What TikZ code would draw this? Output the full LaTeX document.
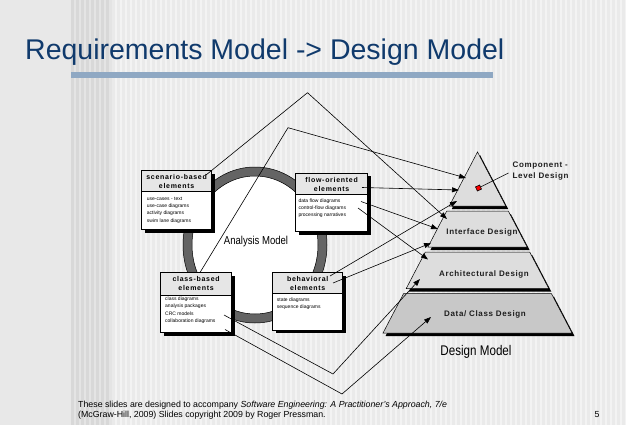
\documentclass[tikz,border=0pt]{standalone}
\usepackage{fontspec}
\setmainfont{Liberation Sans}
\newfontfamily\narrowfont[FakeStretch=0.83]{Liberation Sans}
\newfontfamily\headfont[LetterSpace=10]{Liberation Sans}
\newfontfamily\tierfont[LetterSpace=8]{Liberation Sans}
\usetikzlibrary{arrows.meta,shadows}

\definecolor{titleblue}{RGB}{16,58,108}
\definecolor{barblue}{RGB}{143,168,195}
\definecolor{bgleft}{RGB}{232,232,232}
\definecolor{bgpale}{RGB}{243,243,243}
\definecolor{stripelight}{RGB}{234,234,234}
\definecolor{bgdark}{RGB}{228,228,228}
\definecolor{stripedark}{RGB}{216,216,216}
\definecolor{ringgray}{RGB}{100,100,100}
\definecolor{hdrgray}{RGB}{230,230,230}
\definecolor{tiergray}{RGB}{221,221,221}
\definecolor{basegray}{RGB}{200,200,200}
\definecolor{labelink}{RGB}{30,30,30}

\begin{document}
\begin{tikzpicture}[x=1pt,y=-1pt,
  elbox/.style={draw=black, line width=0.6pt, fill=white, inner sep=0pt,
    drop shadow={shadow xshift=3pt, shadow yshift=-3pt, fill=black, opacity=1}},
  elhead/.style={draw=black, line width=0.6pt, fill=hdrgray, inner sep=0pt,
    align=center, font=\headfont\bfseries\fontsize{7}{9}\selectfont},
  eltext/.style={inner sep=0pt, align=left, font=\fontsize{5}{7.4}\selectfont},
  tierlbl/.style={inner sep=0pt, text=labelink, font=\tierfont\bfseries\fontsize{8}{11}\selectfont},
  foottext/.style={anchor=base west, inner sep=0pt, font=\fontsize{8.8}{9}\selectfont},
  conn/.style={draw=black, line width=0.6pt},
  arr/.style={conn, -{Triangle[length=7pt,width=5pt]}}]
\useasboundingbox (0,0) rectangle (626,425);

% slide background with vertical stripes
\fill[bgleft] (0,0) rectangle (626,425);
\fill[bgdark] (71,0) rectangle (112,425);
\fill[bgpale] (112,0) rectangle (626,425);
\foreach \i in {0,...,7} \fill[stripedark] ({71+5*\i},0) rectangle ++(2.5,425);
\foreach \i in {0,...,102} \fill[stripelight] ({112+5*\i},0) rectangle ++(2.5,425);

% title and rule
\node[anchor=base west, inner sep=0pt, text=titleblue, font=\fontsize{28.5}{29}\selectfont]
  (title) at (25,60) {Requirements Model -> Design Model};
\fill[barblue] (71,72) rectangle (493,78);

% analysis model ring
\fill[white] (255,245) ellipse [x radius=63, y radius=69];
\fill[ringgray, even odd rule] (255,245) ellipse [x radius=72, y radius=78]
  (255,245) ellipse [x radius=63, y radius=69];
\draw[line width=0.5pt] (255,245) ellipse [x radius=72, y radius=78]
  (255,245) ellipse [x radius=63, y radius=69];
\node[inner sep=0pt, font=\narrowfont\fontsize{11.5}{12}\selectfont] (anl) at (256,242) {Analysis Model};

% scenario-based elements
\node[elbox, minimum width=69.8, minimum height=58.8] (scen) at (176.6,200.1) {};
\node[elhead, minimum width=69.8, minimum height=21, anchor=north] (scenh) at (scen.north) {scenario-based\\elements};
\node[eltext, anchor=north west] (scenb) at (146.7,196.6) {use-cases - text\\use-case diagrams\\activity diagrams\\swim lane diagrams};

% flow-oriented elements
\node[elbox, minimum width=71.8, minimum height=58.4] (flow) at (331.6,202.5) {};
\node[elhead, minimum width=71.8, minimum height=21.4, anchor=north] (flowh) at (flow.north) {flow-oriented\\elements};
\node[eltext, anchor=north west] (flowb) at (298.3,198.3) {data flow diagrams\\control-flow diagrams\\processing narratives};

% class-based elements
\node[elbox, minimum width=70.8, minimum height=60] (cls) at (196.1,302.7) {};
\node[elhead, minimum width=70.8, minimum height=22.3, anchor=north] (clsh) at (cls.north) {class-based\\elements};
\node[eltext, anchor=north west] (clsb) at (165,296.6) {class diagrams\\analysis packages\\CRC models\\collaboration diagrams};

% behavioral elements
\node[elbox, minimum width=70, minimum height=57.3] (beh) at (307.7,301.35) {};
\node[elhead, minimum width=70, minimum height=20.6, anchor=north] (behh) at (beh.north) {behavioral\\elements};
\node[eltext, anchor=north west] (behb) at (276.7,297.6) {state diagrams\\sequence diagrams};

% design model pyramid: shadow, then tier
\foreach \ya/\yb/\col in {211/247/tiergray, 252/288.5/tiergray, 293.5/333/basegray}{
  \fill[black, shift={(2.5,3)}] ({477.5-0.522*(\ya-152)},\ya) -- ({477.5+0.522*(\ya-152)},\ya)
    -- ({477.5+0.522*(\yb-152)},\yb) -- ({477.5-0.522*(\yb-152)},\yb) -- cycle;
  \filldraw[fill=\col, draw=black, line width=0.5pt] ({477.5-0.522*(\ya-152)},\ya) -- ({477.5+0.522*(\ya-152)},\ya)
    -- ({477.5+0.522*(\yb-152)},\yb) -- ({477.5-0.522*(\yb-152)},\yb) -- cycle;
}
\fill[black, shift={(2.5,3)}] (477.5,152) -- ({477.5+0.522*54},206) -- ({477.5-0.522*54},206) -- cycle;
\filldraw[fill=tiergray, draw=black, line width=0.5pt] (477.5,152) -- ({477.5+0.522*54},206) -- ({477.5-0.522*54},206) -- cycle;

\node[tierlbl] (ifd) at (482,232) {Interface Design};
\node[tierlbl] (ard) at (484,274) {Architectural Design};
\node[tierlbl] (dcd) at (485,314) {Data/ Class Design};
\node[inner sep=0pt, font=\narrowfont\fontsize{14}{14}\selectfont] (dsm) at (476,352) {Design Model};

% component-level marker and its label
\node[draw=black, fill=red, line width=0.6pt, minimum size=4.5pt, inner sep=0pt, rotate=25] (redsq) at (478.5,188) {};
\node[tierlbl, anchor=north west, align=left] (cld) at (512.5,161.5) {Component -\\Level Design};
\coordinate (cldpt) at (508.5,173);
\draw[conn] (redsq) -- (cldpt);

% mapping from analysis elements to design tiers
\coordinate (s1) at (206,175);   \coordinate (b1) at (307.5,92.7); \coordinate (e1) at (447,219);
\coordinate (s2) at (200,272.5); \coordinate (b2) at (288,127.7);  \coordinate (e2) at (466,178);
\coordinate (s3) at (362,187.5); \coordinate (e3) at (459,190);
\coordinate (s4) at (361,201.5); \coordinate (e4) at (438,229);
\coordinate (s5) at (358,208);   \coordinate (e5) at (428,259.5);
\coordinate (s6) at (330,276);   \coordinate (e6) at (457,201);
\coordinate (s7) at (333,283);   \coordinate (e7) at (431,243);
\coordinate (s8) at (224,315);   \coordinate (b8) at (333,374);    \coordinate (e8) at (420,279);
\coordinate (s9) at (225,329.5); \coordinate (b9) at (342,394);    \coordinate (e9) at (431,317);

\draw[arr] (s1) -- (b1) -- (e1);
\draw[arr] (s2) -- (b2) -- (e2);
\draw[arr] (s3) -- (e3);
\draw[arr] (s4) -- (e4);
\draw[arr] (s5) -- (e5);
\draw[arr] (s6) -- (e6);
\draw[arr] (s7) -- (e7);
\draw[arr] (s8) -- (b8) -- (e8);
\draw[arr] (s9) -- (b9) -- (e9);

% footer
\node[foottext] (foot1) at (78,407)
  {These slides are designed to accompany \textit{Software Engineering: A Practitioner's Approach, 7/e}};
\node[foottext] (foot2) at (78,417)
  {(McGraw-Hill, 2009) Slides copyright 2009 by Roger Pressman.};
\node[foottext] (pgno) at (594.5,417) {5};
\end{tikzpicture}
\end{document}
